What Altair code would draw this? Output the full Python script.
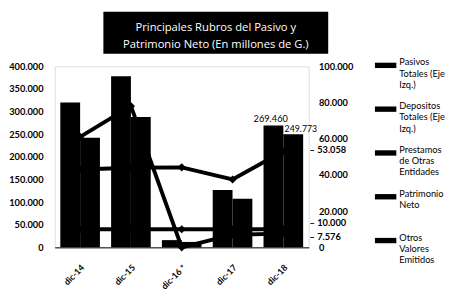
import json
import altair as alt
import pandas as pd

categories = ["dic-14", "dic-15", "dic-16 *", "dic-17", "dic-18"]
pasivos = [320000, 378000, 16000, 127000, 269460]
depositos = [242000, 288000, 12000, 107500, 249773]
prestamos = [61000, 78000, 0, 7000, 7576]
patrimonio = [43000, 44000, 44200, 37500, 53058]
otros = [10000, 10000, 10000, 10000, 10000]

series_names = [
    "Pasivos Totales (Eje Izq.)",
    "Depositos Totales (Eje Izq.)",
    "Prestamos de Otras Entidades",
    "Patrimonio Neto",
    "Otros Valores Emitidos",
]
legend_lines = [
    ["Pasivos", "Totales (Eje", "Izq.)"],
    ["Depositos", "Totales (Eje", "Izq.)"],
    ["Prestamos", "de Otras", "Entidades"],
    ["Patrimonio", "Neto", " "],
    ["Otros", "Valores", "Emitidos"],
]
title_lines = ["Principales Rubros del Pasivo y", "Patrimonio Neto (En millones de G.)"]
left_ticks = [0, 50000, 100000, 150000, 200000, 250000, 300000, 350000, 400000]
right_ticks = [0, 20000, 40000, 60000, 80000, 100000]

bar_rows = []
for name, vals in zip(series_names[:2], [pasivos, depositos]):
    for c, v in zip(categories, vals):
        bar_rows.append({"cat": c, "series": name, "value": v})
bar_df = pd.DataFrame(bar_rows)

line_rows = []
for name, vals in zip(series_names[2:], [prestamos, patrimonio, otros]):
    for c, v in zip(categories, vals):
        line_rows.append({"cat": c, "series": name, "value": v})
line_df = pd.DataFrame(line_rows)

fmt = "replace(format(datum.value, ','), ',', '.')"
label_map = json.dumps(dict(zip(series_names, legend_lines)))

FONT = "Lato"
color_scale = alt.Scale(domain=series_names, range=["black"] * 5)
legend = alt.Legend(
    title=None, orient="none", legendX=329, legendY=-12,
    symbolType="M-1,-0.25L1,-0.25L1,0.25L-1,0.25Z", symbolSize=484,
    symbolFillColor="black", symbolStrokeColor="black", symbolStrokeWidth=0,
    labelFont=FONT, labelFontSize=9.5, labelColor="black", labelLimit=200,
    labelExpr=f"{label_map}[datum.label]", labelBaseline="alphabetic", labelOffset=3,
    rowPadding=9,
)
color_enc = alt.Color("series:N", scale=color_scale, legend=legend)

x_enc = alt.X(
    "cat:N", sort=categories,
    scale=alt.Scale(paddingInner=0.22, paddingOuter=0.11),
    axis=alt.Axis(title=None, labelAngle=315, labelFont=FONT, labelFontSize=9,
                  labelFontWeight="bold", labelColor="black", ticks=False,
                  domainColor="black", domainWidth=1, labelPadding=16),
)
y_left = alt.Y(
    "value:Q", scale=alt.Scale(domain=[0, 400000]),
    axis=alt.Axis(title=None, values=left_ticks, labelExpr=fmt, domain=False,
                  ticks=False, grid=False, labelPadding=12, labelFont=FONT,
                  labelFontSize=9.5, labelFontWeight="bold", labelColor="black"),
)
y_right = alt.Y(
    "value:Q", scale=alt.Scale(domain=[0, 100000]),
    axis=alt.Axis(title=None, orient="right", values=right_ticks, labelExpr=fmt,
                  domain=False, ticks=False, grid=False, labelPadding=10,
                  labelFont=FONT, labelFontSize=9.5, labelFontWeight="bold",
                  labelColor="black"),
)

bars = alt.Chart(bar_df).mark_bar(color="black").encode(
    x=x_enc,
    xOffset=alt.XOffset("series:N", sort=series_names[:2],
                        scale=alt.Scale(domain=series_names[:2], paddingInner=0, paddingOuter=0)),
    y=y_left,
    color=color_enc,
)
base_bar_lbl = alt.Chart(bar_df).transform_filter(
    alt.datum.cat == categories[-1]
).transform_calculate(txt=fmt)
lbl1 = base_bar_lbl.transform_filter(alt.datum.series == series_names[0]).mark_text(
    font=FONT, fontSize=9.5, color="black", baseline="bottom", dx=-13, dy=-1
).encode(x=x_enc, y=y_left, text="txt:N")
lbl2 = base_bar_lbl.transform_filter(alt.datum.series == series_names[1]).mark_text(
    font=FONT, fontSize=9, color="black", baseline="bottom", dx=18, dy=0
).encode(x=x_enc, y=y_left, text="txt:N")
left = alt.layer(bars, lbl1, lbl2)

lines = alt.Chart(line_df).mark_line(strokeWidth=4, color="black").encode(
    x=x_enc, y=y_right, color=color_enc, detail="series:N"
)
points = alt.Chart(line_df).mark_point(shape="diamond", filled=True, size=70, opacity=1, color="black").encode(
    x=x_enc, y=y_right, color=color_enc
)
base_line_lbl = alt.Chart(line_df).transform_filter(
    alt.datum.cat == categories[-1]
).transform_calculate(txt="'– ' + " + fmt)
line_lbls = []
for name, dy in zip(series_names[2:], [4, -1, -6]):
    line_lbls.append(
        base_line_lbl.transform_filter(alt.datum.series == name).mark_text(
            font=FONT, fontSize=9.5, fontWeight="bold", color="black", align="left",
            dx=27, dy=dy
        ).encode(x=x_enc, y=y_right, text="txt:N")
    )
right = alt.layer(lines, points, *line_lbls)

title_df = pd.DataFrame({"t": ["\n".join(title_lines)]})
box = alt.Chart(title_df).mark_rect(color="black").encode(
    x=alt.value(50), x2=alt.value(281), y=alt.value(-56), y2=alt.value(-13)
)
title_txt = alt.Chart(title_df).mark_text(
    font="Open Sans", fontSize=11.5, color="white", lineBreak="\n", lineHeight=18,
    align="center", baseline="middle"
).encode(x=alt.value(165.5), y=alt.value(-39.5), text="t:N")

chart = alt.layer(left, right, box, title_txt).resolve_scale(y="independent").properties(
    width=261, height=186, padding=0,
).configure_view(stroke=None).configure(background="white")

chart.save("out.html", embed_options={"renderer": "svg", "actions": False})
